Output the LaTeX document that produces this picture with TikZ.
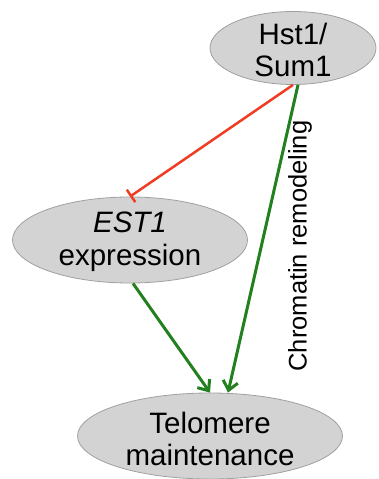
\documentclass[tikz,border=0pt]{standalone}
\usepackage{fontspec}
\setmainfont{Liberation Sans}
\usetikzlibrary{shapes.geometric,arrows.meta,calc}
\definecolor{nodefill}{RGB}{211,211,211}
\definecolor{nodeline}{RGB}{160,160,160}
\definecolor{actgreen}{RGB}{34,128,30}
\definecolor{inhred}{RGB}{240,60,35}
\tikzset{
  oval/.style={ellipse,draw=nodeline,fill=nodefill,line width=0.8pt,inner sep=0pt},
  ovaltext/.style={align=center,font=\fontsize{29.5}{32.5}\selectfont,inner sep=0pt},
  activate/.style={draw=actgreen,line width=3pt,-{Straight Barb[length=9pt,width=15pt,line width=3pt]}},
  inhibit/.style={draw=inhred,line width=2.5pt,-{Bar[width=15pt,line width=2.5pt]}}
}
\begin{document}
\begin{tikzpicture}[x=1pt,y=-1pt]
\useasboundingbox (0,0) rectangle (378,479);
% gene / process nodes
\node[oval,minimum width=166pt,minimum height=73pt] (hst) at (293,48) {};
\node[oval,minimum width=235pt,minimum height=86pt] (est) at (130,240) {};
\node[oval,minimum width=265pt,minimum height=86pt] (telo) at (210,436) {};
\node[ovaltext] (hsttxt) at ($(hst.center)+(0,2)$) {Hst1/\\Sum1};
\node[ovaltext] (esttxt) at ($(est.center)+(0,2)$) {\textit{EST1}\\expression};
\node[ovaltext] (telotxt) at ($(telo.center)+(0,3)$) {Telomere\\maintenance};
% regulatory links
\draw[inhibit] (hst.south) -- (est.north);
\draw[activate] ($(hst.south)+(5,0)$) -- ($(telo.north)+(18,0)$);
\draw[activate] ($(est.south)+(3,0)$) -- ($(telo.north)+(0,0)$);
\node[rotate=90,font=\fontsize{25.5}{28}\selectfont,inner sep=0pt] (chrom) at (300,246) {Chromatin remodeling};
\end{tikzpicture}
\end{document}
